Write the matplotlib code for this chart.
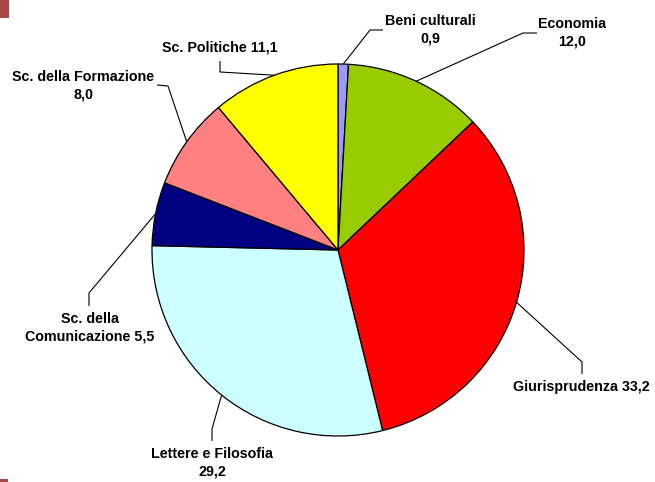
import numpy as np
import matplotlib
matplotlib.use("Agg")
import matplotlib.pyplot as plt
from matplotlib.patches import Rectangle

# ---- data ----
categories = ["Beni culturali", "Economia", "Giurisprudenza", "Lettere e Filosofia",
              "Sc. della Comunicazione", "Sc. della Formazione", "Sc. Politiche"]
values = [0.9, 12.0, 33.2, 29.2, 5.5, 8.0, 11.1]
label_texts = ["Beni culturali\n0,9", "Economia\n12,0", "Giurisprudenza 33,2",
               "Lettere e Filosofia\n29,2", "Sc. della\nComunicazione 5,5",
               "Sc. della Formazione\n8,0", "Sc. Politiche 11,1"]
colors = ["#9999FF", "#99CC00", "#FF0000", "#CCFFFF", "#000080", "#FF8080", "#FFFF00"]

# ---- layout (pixel coordinates, y measured from top) ----
W, H = 655, 482
CX, CY, R = 338, 250, 186
# text centre, leader start (port), elbow
label_pos = [(430, 30), (572, 33), (581, 387), (212, 463), (90, 328), (83, 86), (220, 48)]
ports = [(383, 30), (537, 33), (582, 374), (212, 441), (89, 306), (157, 85), (220, 61)]
elbows = [(370, 30), (523, 33), (582, 362), (212, 429), (89, 293), (168, 86), (220, 72)]

plt.rcParams['font.family'] = ['Liberation Sans', 'DejaVu Sans']

fig = plt.figure(figsize=(W / 100, H / 100), dpi=100)
ax = fig.add_axes([0, 0, 1, 1])

def P(x, y):
    return x, H - y

ax.pie(values, colors=colors, startangle=90, counterclock=False,
       center=P(CX, CY), radius=R,
       wedgeprops=dict(edgecolor="black", linewidth=0.9))
ax.set_xlim(0, W)
ax.set_ylim(0, H)
ax.set_aspect("equal")
ax.axis("off")

total = sum(values)
cum = 0.0
for v, txt, lp, pt, el in zip(values, label_texts, label_pos, ports, elbows):
    mid = 90 - 360.0 * (cum + v / 2) / total
    cum += v
    ex = CX + R * np.cos(np.radians(mid))
    ey = CY - R * np.sin(np.radians(mid))
    xs = [pt[0], el[0], ex]
    ys = [H - pt[1], H - el[1], H - ey]
    ax.plot(xs, ys, color="black", linewidth=0.8, solid_capstyle="butt")
    ax.text(*P(*lp), txt, ha="center", va="center", fontsize=10.3,
            fontweight="bold", linespacing=1.3, color="black")

# slide decorations at left edge
fig.patches.append(Rectangle((0, 1 - 18 / H), 9 / W, 18 / H, transform=fig.transFigure,
                             facecolor="#A94848", edgecolor="none"))
fig.patches.append(Rectangle((0, 0), 8 / W, 3 / H, transform=fig.transFigure,
                             facecolor="#A94848", edgecolor="none"))

fig.savefig("out.png", dpi=100)
